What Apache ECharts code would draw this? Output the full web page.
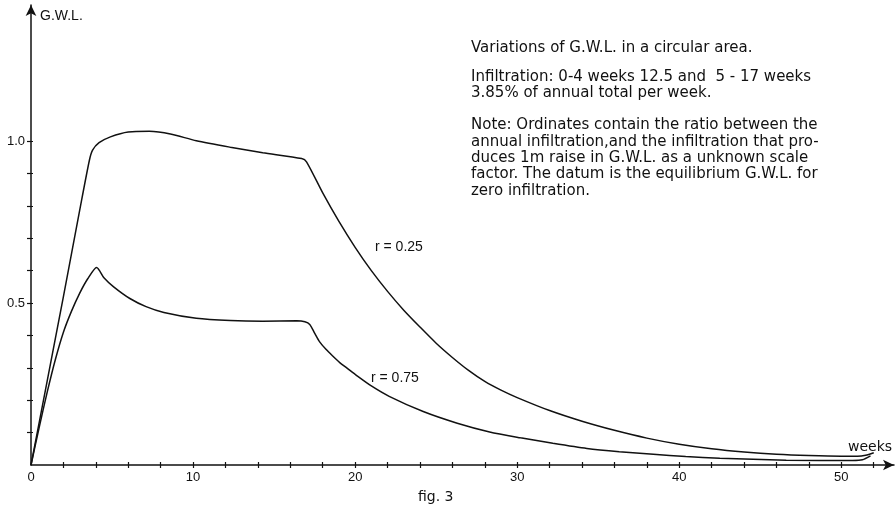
<!DOCTYPE html>
<html>
<head>
<meta charset="utf-8">
<script src="https://cdn.jsdelivr.net/npm/echarts@6/dist/echarts.min.js"></script>
<style>html,body{margin:0;padding:0;background:#fff}#c{width:896px;height:506px}</style>
</head>
<body>
<div id="c"></div>
<script>
// ---- data ----
const weeksR025 = [0, 1, 2, 3, 3.6, 3.8, 4.2, 4.9, 6, 7.3, 8.6, 10.2, 12.3, 14.3, 16.7, 17.0, 18, 19, 20, 21, 22, 23, 24, 25, 26, 27, 28, 29, 30, 32, 34, 36, 38, 40, 42, 44, 46, 48, 50, 51, 51.5, 52.0];
const gwlR025   = [0, 0.26, 0.52, 0.785, 0.94, 0.972, 0.995, 1.013, 1.028, 1.03, 1.022, 1.001, 0.981, 0.964, 0.946, 0.936, 0.84, 0.752, 0.672, 0.6, 0.536, 0.478, 0.426, 0.376, 0.332, 0.292, 0.258, 0.231, 0.208, 0.168, 0.135, 0.107, 0.083, 0.064, 0.05, 0.04, 0.033, 0.029, 0.027, 0.027, 0.03, 0.038];
const weeksR075 = [0, 0.5, 1, 1.5, 2, 2.5, 3, 3.5, 4.05, 4.5, 5.1, 6.1, 7.1, 8.2, 10.2, 12.3, 14.3, 16.4, 16.9, 17.2, 17.5, 17.8, 18.2, 18.6, 19.05, 19.5, 20.1, 21, 22.1, 24.2, 26.3, 28.3, 30.2, 32.2, 34.3, 36.3, 38.4, 40.4, 42.5, 46.6, 50.7, 51.3, 51.8];
const gwlR075   = [0, 0.115, 0.225, 0.325, 0.41, 0.475, 0.53, 0.575, 0.61, 0.578, 0.55, 0.514, 0.489, 0.471, 0.453, 0.446, 0.444, 0.445, 0.442, 0.434, 0.407, 0.381, 0.357, 0.337, 0.316, 0.299, 0.276, 0.244, 0.212, 0.165, 0.129, 0.102, 0.084, 0.067, 0.051, 0.041, 0.033, 0.026, 0.021, 0.015, 0.014, 0.016, 0.028];
const xTickValues  = [2, 4, 6, 8, 10, 12, 14, 16, 18, 20, 22, 24, 26, 28, 30, 32, 34, 36, 38, 40, 42, 44, 46, 48, 50, 52];
const xLabelValues = [0, 10, 20, 30, 40, 50];
const yTickValues  = [0.1, 0.2, 0.3, 0.4, 0.5, 0.6, 0.7, 0.8, 0.9, 1.0];
const yLabelValues = [0.5, 1.0];
const seriesNames  = ['r = 0.25', 'r = 0.75'];
const yAxisTitle = 'G.W.L.';
const xAxisTitle = 'weeks';
const captionText = 'fig. 3';
const noteParagraphs = [
  ['Variations of G.W.L. in a circular area.'],
  ['Infiltration: 0-4 weeks 12.5 and  5 - 17 weeks', '3.85% of annual total per week.'],
  ['Note: Ordinates contain the ratio between the', 'annual infiltration,and the infiltration that pro-', 'duces 1m raise in G.W.L. as a unknown scale', 'factor. The datum is the equilibrium G.W.L. for', 'zero infiltration.']
];

const zip = (a, b) => a.map((v, i) => [v, b[i]]);
const X_MAX = 53.25, Y_MAX = 1.42;
const labelFont = '"Liberation Sans", Arial, sans-serif';
const noteFont = '"DejaVu Sans", sans-serif';

const chart = echarts.init(document.getElementById('c'), null, {renderer: 'canvas'});

// note text lines (layout)
const paraGaps = [0, 12.5, 15.7];
const noteGraphics = [];
let y = 41;
noteParagraphs.forEach((para, pi) => {
  y += paraGaps[pi];
  para.forEach((line) => {
    noteGraphics.push({type: 'text', left: 471, top: y, style: {text: line, font: '15px ' + noteFont, fill: '#111'}});
    y += 16.3;
  });
});

const baseX = {type: 'value', min: 0, max: X_MAX, position: 'bottom', splitLine: {show: false}};
const baseY = {type: 'value', min: 0, max: Y_MAX, position: 'left', splitLine: {show: false}};

chart.setOption({
  animation: false,
  backgroundColor: '#fff',
  grid: {left: 31, right: 2, top: 5, bottom: 41, containLabel: false},
  xAxis: [
    Object.assign({}, baseX, {
      axisLine: {show: true, symbol: ['none', 'arrow'], symbolSize: [8, 11], lineStyle: {color: '#111', width: 1.5}},
      axisTick: {show: true, inside: false, length: 3, customValues: xTickValues, lineStyle: {color: '#111', width: 1.2}},
      axisLabel: {show: true, customValues: xLabelValues, margin: 6, color: '#111', fontSize: 13, fontFamily: labelFont}
    }),
    Object.assign({}, baseX, {
      axisLine: {show: false},
      axisTick: {show: true, inside: true, length: 3, customValues: xTickValues, lineStyle: {color: '#111', width: 1.2}},
      axisLabel: {show: false}
    })
  ],
  yAxis: [
    Object.assign({}, baseY, {
      axisLine: {show: true, symbol: ['none', 'arrow'], symbolSize: [8, 11], lineStyle: {color: '#111', width: 1.5}},
      axisTick: {show: true, inside: false, length: 4, customValues: yTickValues, lineStyle: {color: '#111', width: 1.2}},
      axisLabel: {show: true, customValues: yLabelValues, margin: 6, color: '#111', fontSize: 13, fontFamily: labelFont, formatter: (v) => v.toFixed(1)}
    }),
    Object.assign({}, baseY, {
      axisLine: {show: false},
      axisTick: {show: true, inside: true, length: 2, customValues: yTickValues, lineStyle: {color: '#111', width: 1.2}},
      axisLabel: {show: false}
    })
  ],
  series: [
    {name: seriesNames[0], type: 'line', xAxisIndex: 0, yAxisIndex: 0, data: zip(weeksR025, gwlR025), showSymbol: false, smooth: 0.25, lineStyle: {color: '#111', width: 1.5}},
    {name: seriesNames[1], type: 'line', xAxisIndex: 0, yAxisIndex: 0, data: zip(weeksR075, gwlR075), showSymbol: false, smooth: 0.25, lineStyle: {color: '#111', width: 1.5}}
  ],
  graphic: [
    {type: 'text', left: 40, top: 9, style: {text: yAxisTitle, font: '14px ' + labelFont, fill: '#111'}},
    {type: 'text', left: 848, top: 440, style: {text: xAxisTitle, font: '14px ' + noteFont, fill: '#111'}},
    {type: 'text', left: 418, top: 490, style: {text: captionText, font: '14px ' + noteFont, fill: '#111'}},
    {type: 'text', left: 375, top: 240, style: {text: seriesNames[0], font: '14px ' + labelFont, fill: '#111'}},
    {type: 'text', left: 371, top: 371, style: {text: seriesNames[1], font: '14px ' + labelFont, fill: '#111'}}
  ].concat(noteGraphics)
});
</script>
</body>
</html>
